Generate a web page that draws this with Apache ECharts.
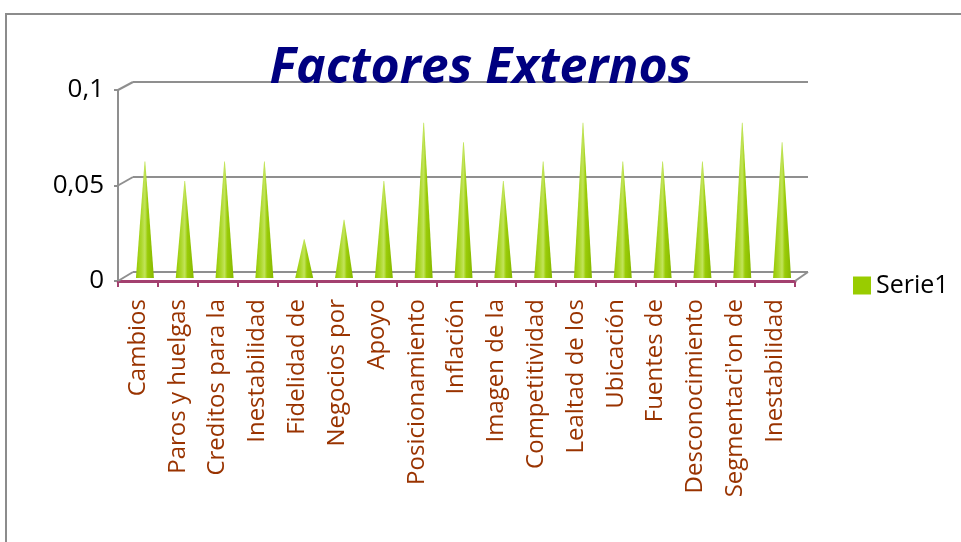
<!DOCTYPE html>
<html>
<head>
<meta charset="utf-8">
<script src="https://cdn.jsdelivr.net/npm/echarts@6/dist/echarts.min.js"></script>
<style>html,body{margin:0;padding:0;background:#fff}#c{width:961px;height:542px}</style>
</head>
<body>
<div id="c"></div>
<script>
const title = 'Factores Externos';
const seriesName = 'Serie1';
const categories = ['Cambios','Paros y huelgas','Creditos para la','Inestabilidad','Fidelidad de','Negocios por','Apoyo','Posicionamiento','Inflación','Imagen de la','Competitividad','Lealtad de los','Ubicación','Fuentes de','Desconocimiento',"Segmentaci'on de",'Inestabilidad'];
const values = [0.06,0.05,0.06,0.06,0.02,0.03,0.05,0.08,0.07,0.05,0.06,0.08,0.06,0.06,0.06,0.08,0.07];
const yMin = 0, yMax = 0.1, yStep = 0.05;

const chart = echarts.init(document.getElementById('c'));
const gridColor = '#8f8f8f';
const fmt = v => String(Math.round(v*100)/100).replace('.', ',');

chart.setOption({
  animation: false,
  backgroundColor: '#fff',
  title: {
    text: title, left: 'center', top: 39,
    textStyle: {fontFamily: 'Open Sans', fontStyle: 'italic', fontWeight: 'bold', fontSize: 50, color: '#000080'}
  },
  legend: {
    left: 848, top: 268, itemWidth: 18, itemHeight: 18, itemGap: 5,
    icon: 'rect',
    textStyle: {fontFamily: 'Open Sans', fontSize: 25, color: '#000'},
    data: [{name: seriesName, itemStyle: {color: '#99cc00'}}]
  },
  grid: [
    {left: 118, right: 166, top: 90, bottom: 261},
    {left: 133, right: 153, top: 82, bottom: 270},
    {left: 125, right: 159, top: 84, bottom: 264}
  ],
  xAxis: [
    {type: 'category', gridIndex: 0, data: categories, boundaryGap: true,
     axisLine: {lineStyle: {color: '#a3406f', width: 3}},
     axisTick: {show: true, length: 6, interval: 0, lineStyle: {color: '#a3406f', width: 2}},
     axisLabel: {rotate: 90, interval: 0, margin: 18, color: '#993300', fontFamily: 'Open Sans', fontSize: 24}},
    {type: 'category', gridIndex: 1, data: categories, show: false},
    {type: 'category', gridIndex: 2, data: categories, show: false}
  ],
  yAxis: [
    {type: 'value', gridIndex: 0, min: yMin, max: yMax, interval: yStep,
     axisLine: {show: true, lineStyle: {color: gridColor, width: 2}},
     axisTick: {show: true, length: 4, lineStyle: {color: gridColor, width: 2}},
     splitLine: {show: false},
     axisLabel: {formatter: fmt, color: '#000', fontFamily: 'Open Sans', fontSize: 26, margin: 14}},
    {type: 'value', gridIndex: 1, min: yMin, max: yMax, interval: yStep,
     axisLine: {show: false}, axisTick: {show: false}, axisLabel: {show: false},
     splitLine: {show: true, lineStyle: {color: gridColor, width: 2}}},
    {type: 'value', gridIndex: 2, min: yMin, max: yMax, show: false, splitLine: {show: false}}
  ],
  series: [{
    name: seriesName,
    type: 'pictorialBar',
    xAxisIndex: 2, yAxisIndex: 2,
    data: values,
    symbol: 'path://M0,100 L48,0 L52,0 L100,100 Z',
    symbolSize: [18, '100%'],
    symbolPosition: 'start',
    z: 10,
    itemStyle: {
      color: new echarts.graphic.LinearGradient(0, 0, 1, 0, [
        {offset: 0, color: '#96c800'},
        {offset: 0.3, color: '#acd82a'},
        {offset: 0.5, color: '#c2e45a'},
        {offset: 0.65, color: '#9acc08'},
        {offset: 1, color: '#86b800'}
      ])
    }
  }]
});

// 3D-style connectors between front axis and back wall
const g0 = chart.getModel().getComponent('grid', 0).coordinateSystem.getRect();
const g1 = chart.getModel().getComponent('grid', 1).coordinateSystem.getRect();
const lines = [];
for (let v = yMin; v <= yMax + 1e-9; v += yStep) {
  const yf = chart.convertToPixel({yAxisIndex: 0}, v);
  const yb = chart.convertToPixel({yAxisIndex: 1}, v);
  lines.push({type: 'line', shape: {x1: g0.x, y1: yf, x2: g1.x, y2: yb}, style: {stroke: gridColor, lineWidth: 2}, z: 5});
}
const yf0 = chart.convertToPixel({yAxisIndex: 0}, yMin);
const yb0 = chart.convertToPixel({yAxisIndex: 1}, yMin);
lines.push({type: 'line', shape: {x1: g0.x + g0.width, y1: yf0, x2: g1.x + g1.width, y2: yb0}, style: {stroke: gridColor, lineWidth: 2}, z: 5});
lines.push({type: 'rect', shape: {x: 6, y: 14, width: 1000, height: 600}, style: {fill: 'none', stroke: '#8c8c8c', lineWidth: 2}, z: 0});
chart.setOption({graphic: lines});
</script>
</body>
</html>
